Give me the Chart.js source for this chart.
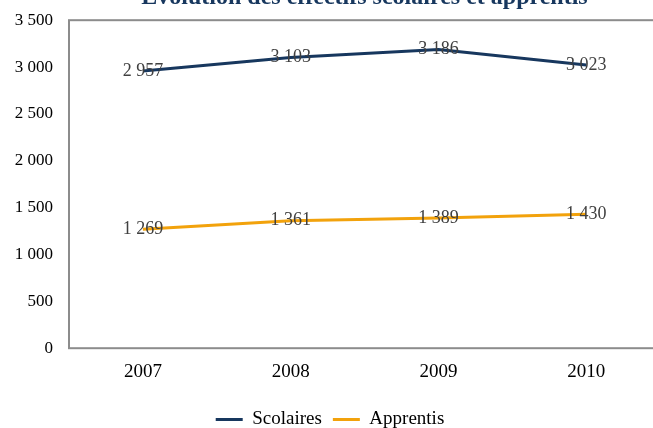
<!DOCTYPE html>
<html>
<head>
<meta charset="utf-8">
<script src="https://cdn.jsdelivr.net/npm/chart.js@4/dist/chart.umd.min.js"></script>
<style>
	html, body { margin: 0; padding: 0; background: #ffffff; overflow: hidden; }
	#wrap { position: relative; width: 653px; height: 428px; overflow: hidden; }
	#box { position: absolute; left: 0; top: -6px; width: 660px; height: 434px; }
</style>
</head>
<body>
<div id="wrap"><div id="box"><canvas id="chart"></canvas></div></div>
<script>
// ----------------------------------------------------------------------
const years = ["2007", "2008", "2009", "2010"]
const scolaires = [2957, 3103, 3186, 3023]
const apprentis = [1269, 1361, 1389, 1430]
const titre = "Évolution des effectifs scolaires et apprentis"

const serif = "'Liberation Serif', 'DejaVu Serif', serif"

// ----------------------------------------------------------------------
function fmt (vv)
{
	return String(vv).replace(/\B(?=(\d{3})+(?!\d))/g, " ")
}

// cadre gris autour de la zone de tracé
const cadre = {
	id: 'cadre',
	beforeDatasetsDraw (chart)
		{
		const aa = chart.chartArea
		const ctx = chart.ctx
		ctx.save()
		ctx.strokeStyle = '#8c8c8c'
		ctx.lineWidth = 2
		ctx.strokeRect(aa.left, aa.top, aa.right - aa.left, aa.bottom - aa.top)
		ctx.restore()
		}
	}

// étiquettes des valeurs
const etiquettes = {
	id: 'etiquettes',
	afterDatasetsDraw (chart)
		{
		const ctx = chart.ctx
		ctx.save()
		ctx.font = "18px " + serif
		ctx.fillStyle = '#404040'
		ctx.textAlign = 'center'
		ctx.textBaseline = 'middle'
		chart.data.datasets.forEach(function (ds, ii)
			{
			const meta = chart.getDatasetMeta(ii)
			meta.data.forEach(function (pt, jj)
				{
				ctx.fillText(fmt(ds.data[jj]), pt.x, pt.y)
				})
			})
		ctx.restore()
		}
	}

// ----------------------------------------------------------------------
const graph_data = {
	labels: years,
	datasets: [
		{ label: "Scolaires", data: scolaires, borderColor: '#17375e',
			backgroundColor: '#17375e', borderWidth: 3, pointRadius: 0, lineTension: 0 },
		{ label: "Apprentis", data: apprentis, borderColor: '#f2a20c',
			backgroundColor: '#f2a20c', borderWidth: 3, pointRadius: 0, lineTension: 0 }
		]
	}

const options = {
	responsive: true,
	maintainAspectRatio: false,
	animation: false,
	layout: { padding: { left: 0, right: 0, top: 0, bottom: -11 } },
	plugins: {
		title: {
			display: true,
			text: titre,
			fullSize: false,
			color: '#17375e',
			font: { family: serif, size: 24, weight: 'bold' },
			padding: { top: -23, bottom: 8 }
			},
		legend: {
			position: 'bottom',
			labels: {
				color: '#000000',
				font: { family: serif, size: 19 },
				usePointStyle: true,
				pointStyle: 'line',
				pointStyleWidth: 27,
				padding: 11
				}
			},
		tooltip: { enabled: false }
		},
	scales: {
		x: {
			offset: true,
			afterFit: function (scale) { scale.height = scale.height + 4 },
			grid: { display: false, drawTicks: false },
			border: { display: false },
			ticks: { color: '#000000', font: { family: serif, size: 19 }, padding: 12 }
			},
		y: {
			min: 0,
			max: 3500,
			afterFit: function (scale) { scale.width = 69 },
			grid: { display: false, drawTicks: false },
			border: { display: false },
			ticks: { stepSize: 500, color: '#000000', font: { family: serif, size: 17 }, padding: 16,
				callback: function (vv) { return fmt(vv) } }
			}
		}
	}

const config = {
	type: 'line',
	data: graph_data,
	options: options,
	plugins: [cadre, etiquettes]
	}

const context = document.getElementById("chart")
const chart = new Chart(context, config)
</script>
</body>
</html>
